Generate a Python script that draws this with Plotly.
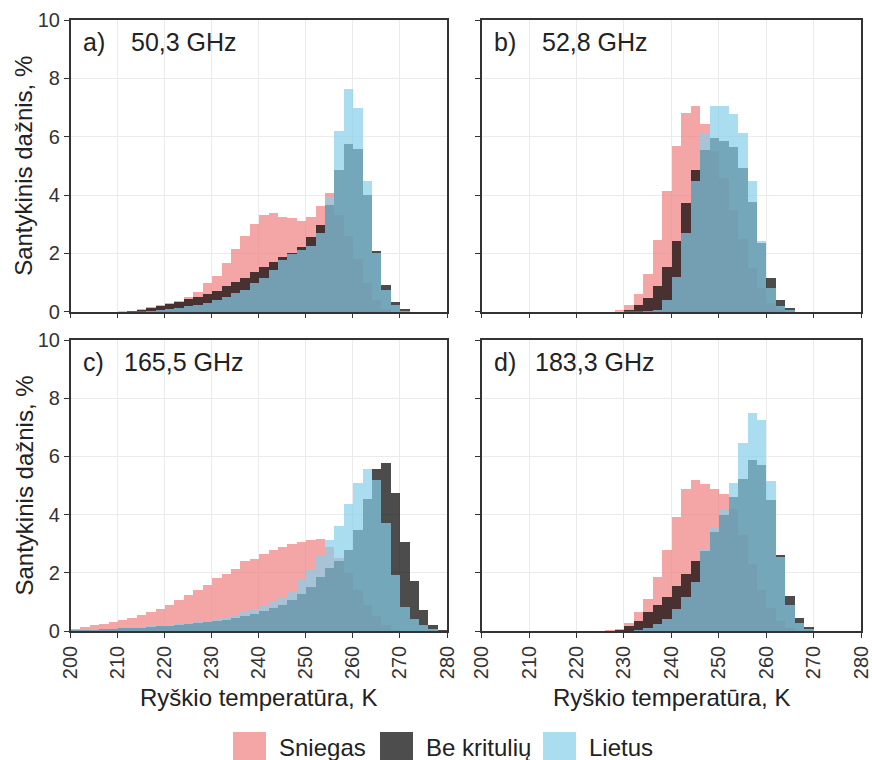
import plotly.graph_objects as go

# ---------------- data ----------------
BIN_CENTERS = [201 + 2 * i for i in range(40)]  # 2 K bins, 200..280 K
SERIES = ["Sniegas", "Be kritulių", "Lietus"]

# panel a) 50,3 GHz
sniegas_a = [0, 0, 0, 0, 0, 0.02, 0.04, 0.08, 0.15, 0.23,
             0.29, 0.37, 0.49, 0.69, 0.97, 1.22, 1.66, 2.14, 2.59, 3.0,
             3.31, 3.37, 3.23, 3.2, 3.12, 3.23, 3.63, 4.06, 3.3, 2.6,
             1.8, 1.0, 0.4, 0.1, 0, 0, 0, 0, 0, 0]
be_a = [0, 0, 0, 0, 0, 0, 0.03, 0.06, 0.11, 0.19,
        0.26, 0.34, 0.43, 0.5, 0.6, 0.72, 0.88, 1.03, 1.14, 1.37,
        1.54, 1.71, 1.89, 2.0, 2.23, 2.55, 2.97, 3.66, 4.86, 5.75,
        5.57, 4.0, 2.09, 0.91, 0.32, 0.09, 0, 0, 0, 0]
lietus_a = [0, 0, 0, 0, 0, 0, 0, 0, 0.02, 0.05,
            0.09, 0.13, 0.18, 0.24, 0.31, 0.4, 0.52, 0.64, 0.74, 0.97,
            1.14, 1.43, 1.77, 1.98, 2.11, 2.25, 2.69, 3.94, 6.2, 7.63,
            7.0, 4.49, 2.0, 0.74, 0.23, 0.03, 0, 0, 0, 0]

# panel b) 52,8 GHz
sniegas_b = [0, 0, 0, 0, 0, 0, 0, 0, 0, 0,
             0, 0, 0, 0, 0.05, 0.23, 0.61, 1.28, 2.46, 4.15,
             5.68, 6.82, 7.05, 6.42, 5.5, 4.6, 3.5, 2.5, 1.5, 0.8,
             0.3, 0.1, 0, 0, 0, 0, 0, 0, 0, 0]
be_b = [0, 0, 0, 0, 0, 0, 0, 0, 0, 0,
        0, 0, 0, 0, 0, 0.06, 0.23, 0.46, 0.88, 1.54,
        2.42, 3.71, 4.86, 5.54, 5.97, 5.85, 5.66, 4.91, 3.77, 2.34,
        1.14, 0.4, 0.11, 0, 0, 0, 0, 0, 0, 0]
lietus_b = [0, 0, 0, 0, 0, 0, 0, 0, 0, 0,
            0, 0, 0, 0, 0, 0, 0, 0.02, 0.06, 0.4,
            1.2, 2.69, 4.49, 6.11, 7.05, 7.05, 6.78, 6.11, 4.49, 2.43,
            0.8, 0.19, 0.05, 0, 0, 0, 0, 0, 0, 0]

# panel c) 165,5 GHz
sniegas_c = [0.08, 0.14, 0.19, 0.25, 0.31, 0.37, 0.45, 0.54, 0.65, 0.77,
             0.88, 1.08, 1.23, 1.42, 1.57, 1.83, 1.97, 2.14, 2.41, 2.49,
             2.66, 2.8, 2.9, 2.98, 3.05, 3.12, 3.15, 2.9, 2.5, 2.0,
             1.4, 0.9, 0.5, 0.2, 0.05, 0, 0, 0, 0, 0]
be_c = [0.03, 0.04, 0.05, 0.06, 0.07, 0.09, 0.1, 0.12, 0.14, 0.16,
        0.18, 0.2, 0.23, 0.26, 0.3, 0.34, 0.38, 0.44, 0.52, 0.6,
        0.68, 0.78, 0.9, 1.08, 1.28, 1.5, 1.85, 2.15, 2.4, 2.78,
        3.46, 4.52, 5.58, 5.76, 4.75, 3.06, 1.72, 0.71, 0.22, 0.04]
lietus_c = [0.04, 0.05, 0.06, 0.07, 0.08, 0.1, 0.12, 0.14, 0.16, 0.19,
            0.22, 0.25, 0.28, 0.32, 0.36, 0.41, 0.47, 0.55, 0.64, 0.74,
            0.86, 0.98, 1.12, 1.34, 1.74, 2.09, 2.6, 3.12, 3.6, 4.38,
            5.07, 5.55, 5.2, 3.7, 1.92, 0.83, 0.42, 0.2, 0.06, 0]

# panel d) 183,3 GHz
sniegas_d = [0, 0, 0, 0, 0, 0, 0, 0, 0, 0,
             0, 0, 0, 0.03, 0.08, 0.29, 0.64, 1.1, 1.87, 2.77,
             3.91, 4.88, 5.2, 5.06, 4.88, 4.72, 4.2, 3.3, 2.3, 1.4,
             0.8, 0.35, 0.1, 0, 0, 0, 0, 0, 0, 0]
be_d = [0, 0, 0, 0, 0, 0, 0, 0, 0, 0,
        0, 0, 0, 0, 0.05, 0.17, 0.35, 0.64, 0.9, 1.16,
        1.56, 1.97, 2.4, 2.75, 3.41, 3.99, 4.62, 5.24, 5.87, 5.69,
        4.49, 2.6, 1.22, 0.46, 0.15, 0, 0, 0, 0, 0]
lietus_d = [0, 0, 0, 0, 0, 0, 0, 0, 0, 0,
            0, 0, 0, 0, 0, 0, 0.03, 0.12, 0.23, 0.4,
            0.75, 1.16, 1.68, 2.8, 3.58, 4.16, 5.1, 6.47, 7.49, 7.26,
            5.17, 2.54, 0.91, 0.29, 0.06, 0, 0, 0, 0, 0]

PANEL_LETTERS = ["a)", "b)", "c)", "d)"]
PANEL_FREQS = ["50,3 GHz", "52,8 GHz", "165,5 GHz", "183,3 GHz"]
PANEL_DATA = [
    (sniegas_a, be_a, lietus_a),
    (sniegas_b, be_b, lietus_b),
    (sniegas_c, be_c, lietus_c),
    (sniegas_d, be_d, lietus_d),
]
X_TICKS = [200, 210, 220, 230, 240, 250, 260, 270, 280]
Y_TICKS = [0, 2, 4, 6, 8, 10]
X_TITLE = "Ryškio temperatūra, K"
Y_TITLE = "Santykinis dažnis, %"

# ---------------- style / layout ----------------
OFF = 0  # body margin is removed by the post script below
W, H = 872, 760
COLORS = ["rgba(240,128,128,0.7)", "rgba(0,0,0,0.7)", "rgba(135,206,235,0.7)"]
SWATCH = ["#F4A6A6", "#4D4D4D", "#ABDDF1"]
FONT = "Liberation Sans, Arial, sans-serif"

# panel boxes in window pixels: (left, right, top, bottom)
BOXES = [
    (70.7, 447.0, 20.0, 311.7),
    (481.7, 861.0, 20.0, 311.7),
    (70.7, 447.0, 340.0, 631.0),
    (481.7, 861.0, 340.0, 631.0),
]


def px_x(x):
    return (x - OFF) / W


def px_y(y):
    return 1 - (y - OFF) / H


fig = go.Figure()
layout = dict(
    width=W, height=H, margin=dict(l=0, r=0, t=0, b=0, autoexpand=False),
    paper_bgcolor="white", plot_bgcolor="white",
    barmode="overlay", bargap=0, showlegend=False,
    font=dict(family=FONT, color="#222"),
)

annotations = []
shapes = []
for i, (box, data) in enumerate(zip(BOXES, PANEL_DATA)):
    l, r, t, b = box
    sx = "" if i == 0 else str(i + 1)
    for name, vals, col in zip(SERIES, data, COLORS):
        fig.add_trace(go.Bar(
            x=BIN_CENTERS, y=vals, width=2, name=name,
            marker=dict(color=col, line=dict(width=0)),
            xaxis="x" + sx, yaxis="y" + sx,
            hovertemplate="%{x} K: %{y}%<extra>" + name + "</extra>",
        ))
    bottom_row = i >= 2
    left_col = i % 2 == 0
    layout["xaxis" + sx] = dict(
        domain=[px_x(l), px_x(r)], anchor="y" + sx, range=[200, 280],
        tickvals=X_TICKS, showticklabels=bottom_row, tickangle=-90,
        ticks="outside", ticklen=5, tickcolor="#333", tickwidth=1.2,
        showgrid=True, gridcolor="#EBEBEB", gridwidth=1.2,
        showline=True, linecolor="#333", linewidth=1.5, mirror=True,
        zeroline=False, automargin=False, ticklabeloverflow="allow",
        tickfont=dict(size=20, color="#333", family=FONT),
    )
    layout["yaxis" + sx] = dict(
        domain=[px_y(b), px_y(t)], anchor="x" + sx, range=[0, 10],
        tickvals=Y_TICKS, showticklabels=left_col,
        ticks="outside", ticklen=5, tickcolor="#333", tickwidth=1.2,
        showgrid=True, gridcolor="#EBEBEB", gridwidth=1.2,
        showline=True, linecolor="#333", linewidth=1.5, mirror=True,
        zeroline=False, automargin=False, ticklabeloverflow="allow",
        tickfont=dict(size=20, color="#333", family=FONT),
    )
    # panel labels
    annotations.append(dict(
        x=px_x(l + 10), y=px_y(t + 22), xref="paper", yref="paper",
        text=PANEL_LETTERS[i], showarrow=False, xanchor="left", yanchor="middle",
        font=dict(size=25, color="#222", family=FONT),
    ))
    annotations.append(dict(
        x=px_x(l + 113), y=px_y(t + 22), xref="paper", yref="paper",
        text=PANEL_FREQS[i], showarrow=False, xanchor="center", yanchor="middle",
        font=dict(size=25, color="#222", family=FONT),
    ))
    if bottom_row:
        annotations.append(dict(
            x=px_x((l + r) / 2), y=px_y(697), xref="paper", yref="paper",
            text=X_TITLE, showarrow=False, xanchor="center", yanchor="middle",
            font=dict(size=24, color="#222", family=FONT),
        ))
    if left_col:
        annotations.append(dict(
            x=px_x(24), y=px_y((t + b) / 2), xref="paper", yref="paper",
            text=Y_TITLE, showarrow=False, xanchor="center", yanchor="middle",
            textangle=-90, font=dict(size=24, color="#222", family=FONT),
        ))

# legend (manual, ggplot style keys)
LEG_X = [233, 380, 543]
for name, sw, x0 in zip(SERIES, SWATCH, LEG_X):
    shapes.append(dict(
        type="rect", xref="paper", yref="paper",
        x0=px_x(x0), x1=px_x(x0 + 33), y0=px_y(766), y1=px_y(732),
        fillcolor=sw, line=dict(width=0),
    ))
    annotations.append(dict(
        x=px_x(x0 + 44), y=px_y(747), xref="paper", yref="paper",
        text=name, showarrow=False, xanchor="left", yanchor="middle",
        font=dict(size=24, color="#222", family=FONT),
    ))

layout["annotations"] = annotations
layout["shapes"] = shapes
fig.update_layout(**layout)
fig.write_html(
    "out.html",
    config={"displayModeBar": False},
    post_script="document.body.style.margin='0';"
                "document.documentElement.style.overflow='hidden';",
)
